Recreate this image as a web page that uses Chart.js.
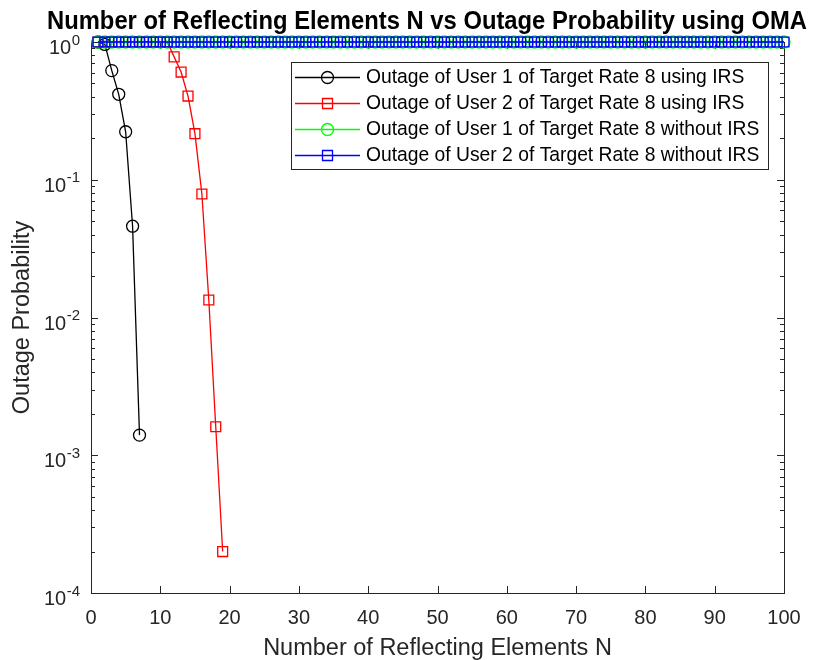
<!DOCTYPE html>
<html>
<head>
<meta charset="utf-8">
<script src="https://cdn.jsdelivr.net/npm/chart.js@4.4.1/dist/chart.umd.min.js"></script>
<style>
html, body { margin: 0; padding: 0; background: #fff; }
#wrap { width: 814px; height: 660px; }
</style>
</head>
<body>
<div id="wrap"><canvas id="outageChart"></canvas></div>
<script>
// N = 1..100 reflecting elements
const nValues = [];
for (let n = 1; n <= 100; n++) nValues.push(n);

const user1Irs = [1, 0.96, 0.62, 0.417, 0.223, 0.046, 0.0014];
const user2Irs = [1, 1, 1, 1, 1, 1, 1, 1, 1, 1, 1, 0.78, 0.605, 0.405, 0.216, 0.0788, 0.0134, 0.00161, 0.0002];
const user1NoIrs = [
    1,1,1,1,1,1,1,1,1,1, 1,1,1,1,1,1,1,1,1,1, 1,1,1,1,1,1,1,1,1,1, 1,1,1,1,1,1,1,1,1,1, 1,1,1,1,1,1,1,1,1,1,
    1,1,1,1,1,1,1,1,1,1, 1,1,1,1,1,1,1,1,1,1, 1,1,1,1,1,1,1,1,1,1, 1,1,1,1,1,1,1,1,1,1, 1,1,1,1,1,1,1,1,1,1
];
const user2NoIrs = [
    1,1,1,1,1,1,1,1,1,1, 1,1,1,1,1,1,1,1,1,1, 1,1,1,1,1,1,1,1,1,1, 1,1,1,1,1,1,1,1,1,1, 1,1,1,1,1,1,1,1,1,1,
    1,1,1,1,1,1,1,1,1,1, 1,1,1,1,1,1,1,1,1,1, 1,1,1,1,1,1,1,1,1,1, 1,1,1,1,1,1,1,1,1,1, 1,1,1,1,1,1,1,1,1,1
];
const seriesNames = [
    'Outage of User 1 of Target Rate 8 using IRS',
    'Outage of User 2 of Target Rate 8 using IRS',
    'Outage of User 1 of Target Rate 8 without IRS',
    'Outage of User 2 of Target Rate 8 without IRS'
];
const yTickValues = [1e-4, 1e-3, 1e-2, 1e-1, 1];
const yTickExps = ['-4', '-3', '-2', '-1', '0'];
const chartTitle = 'Number of Reflecting Elements N vs Outage Probability using OMA';

const FONT = "'Liberation Sans', Arial, Helvetica, sans-serif";
const AXCOL = '#262626';

function series(label, data, color, shape, order) {
    return {
        label: label,
        data: data,
        borderColor: color,
        borderWidth: 1.3,
        pointStyle: shape,
        pointRadius: shape === 'rect' ? 7 : 6,
        pointBorderColor: color,
        pointBackgroundColor: 'rgba(0,0,0,0)',
        pointBorderWidth: 1.3,
        tension: 0,
        fill: false,
        clip: false,
        order: order
    };
}

// box, inward ticks (MATLAB style), drawn under the data
const axesBox = {
    id: 'axesBox',
    beforeDatasetsDraw(chart) {
        const {ctx, chartArea: a, scales: {x, y}} = chart;
        ctx.save();
        ctx.strokeStyle = AXCOL;
        ctx.lineWidth = 1;
        ctx.strokeRect(a.left + 0.5, a.top + 0.5, a.right - a.left, a.bottom - a.top);
        ctx.beginPath();
        for (let v = 0; v <= 100; v += 10) {
            const px = Math.round(x.getPixelForValue(v)) + 0.5;
            ctx.moveTo(px, a.bottom); ctx.lineTo(px, a.bottom - 7);
            ctx.moveTo(px, a.top); ctx.lineTo(px, a.top + 7);
        }
        for (let k = -4; k <= 0; k++) {
            for (let m = 1; m <= 9; m++) {
                const v = m * Math.pow(10, k);
                if (v > 1) break;
                const py = Math.round(y.getPixelForValue(v)) + 0.5;
                const len = m === 1 ? 7 : 4;
                ctx.moveTo(a.left, py); ctx.lineTo(a.left + len, py);
                ctx.moveTo(a.right, py); ctx.lineTo(a.right - len, py);
            }
        }
        ctx.stroke();

        // y tick labels as 10 with superscript exponent
        ctx.fillStyle = AXCOL;
        ctx.textAlign = 'right';
        ctx.textBaseline = 'alphabetic';
        yTickValues.forEach((v, i) => {
            const py = y.getPixelForValue(v);
            const rightX = a.left - 11;
            ctx.font = '15px ' + FONT;
            const w = ctx.measureText(yTickExps[i]).width;
            ctx.fillText(yTickExps[i], rightX, py + 2.5);
            ctx.font = '20px ' + FONT;
            ctx.fillText('10', rightX - w - 0.5, py + 12);
        });

        // title, a bit narrow like the original figure
        ctx.fillStyle = '#000';
        ctx.textAlign = 'center';
        ctx.font = 'bold 25px ' + FONT;
        ctx.fillText(chartTitle, 427, 29, 760);
        ctx.restore();
    },
    afterDraw(chart) {
        const {ctx} = chart;
        const ds = chart.data.datasets;
        const bx = 291, by = 62, bw = 477, bh = 107;
        ctx.save();
        ctx.fillStyle = '#fff';
        ctx.fillRect(bx, by, bw, bh);
        ctx.strokeStyle = AXCOL;
        ctx.lineWidth = 1;
        ctx.strokeRect(bx + 0.5, by + 0.5, bw, bh);
        ds.forEach((d, i) => {
            const cy = 77 + i * 26;
            ctx.strokeStyle = d.borderColor;
            ctx.lineWidth = 1.3;
            ctx.beginPath();
            ctx.moveTo(295, cy + 0.5); ctx.lineTo(360, cy + 0.5);
            ctx.stroke();
            ctx.beginPath();
            if (d.pointStyle === 'circle') {
                ctx.arc(327.5, cy + 0.5, 6, 0, Math.PI * 2);
            } else {
                ctx.rect(322.5, cy - 4.5, 10, 10);
            }
            ctx.stroke();
            ctx.fillStyle = '#000';
            ctx.font = '19.3px ' + FONT;
            ctx.textAlign = 'left';
            ctx.textBaseline = 'middle';
            ctx.fillText(d.label, 366, cy + 1);
        });
        ctx.restore();
    }
};

new Chart(document.getElementById('outageChart'), {
    type: 'line',
    data: {
        labels: nValues,
        datasets: [
            series(seriesNames[0], user1Irs, '#000000', 'circle', 3),
            series(seriesNames[1], user2Irs, '#ff0000', 'rect', 2),
            series(seriesNames[2], user1NoIrs, '#00ff00', 'circle', 1),
            series(seriesNames[3], user2NoIrs, '#0000ff', 'rect', 0)
        ]
    },
    options: {
        responsive: true,
        maintainAspectRatio: false,
        animation: false,
        layout: { padding: { left: 0, right: 30, top: 42, bottom: 0 } },
        scales: {
            x: {
                type: 'linear',
                min: 0,
                max: 100,
                grid: { display: false, drawTicks: false },
                border: { display: false },
                ticks: { stepSize: 10, padding: 13, color: AXCOL, font: { family: FONT, size: 20 } },
                title: {
                    display: true,
                    text: 'Number of Reflecting Elements N',
                    color: AXCOL,
                    font: { family: FONT, size: 23.5, lineHeight: 1 },
                    padding: { top: 0, bottom: 0 }
                },
                afterFit(scale) { scale.height = 67; }
            },
            y: {
                type: 'logarithmic',
                min: 1e-4,
                max: 1,
                grid: { display: false, drawTicks: false },
                border: { display: false },
                ticks: { display: false },
                afterBuildTicks(scale) { scale.ticks = yTickValues.map(v => ({ value: v })); },
                title: {
                    display: true,
                    text: 'Outage Probability',
                    color: AXCOL,
                    font: { family: FONT, size: 23.5, lineHeight: 1 },
                    padding: { top: 11, bottom: 0 }
                },
                afterFit(scale) { scale.width = 91; }
            }
        },
        plugins: {
            legend: { display: false },
            tooltip: { enabled: false },
            title: { display: false }
        }
    },
    plugins: [axesBox]
});
</script>
</body>
</html>
